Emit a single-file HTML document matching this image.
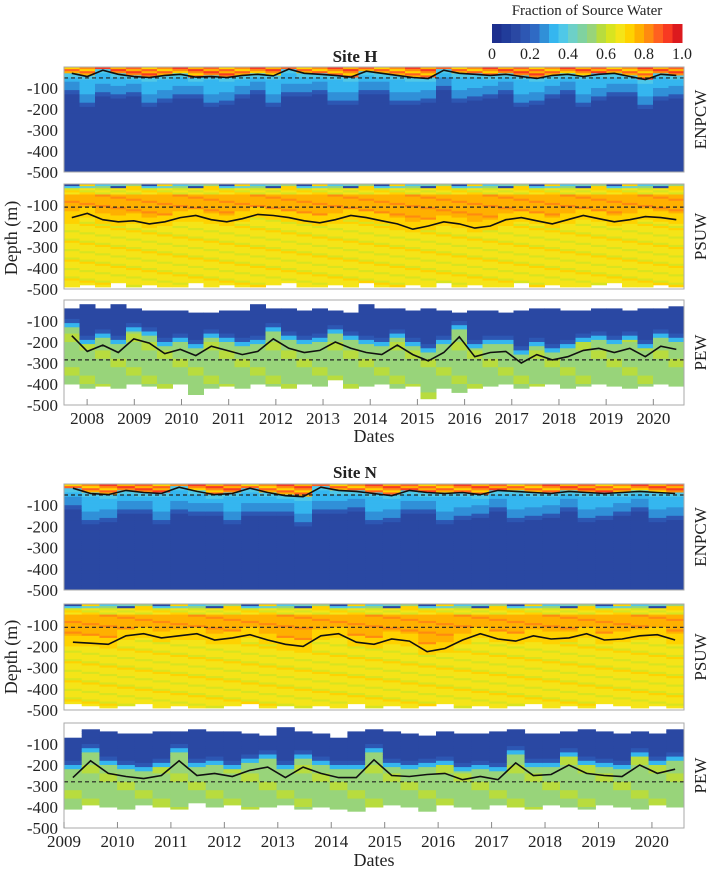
<!DOCTYPE html>
<html><head><meta charset="utf-8"><style>
body{margin:0;background:#fff;}
svg text{font-family:"Liberation Serif",serif;fill:#222;}
</style></head><body>
<svg id="chart" width="709" height="872" viewBox="0 0 709 872" xmlns="http://www.w3.org/2000/svg">
<g id="cb"></g>
<text x="587" y="15" font-size="15" text-anchor="middle">Fraction of Source Water</text>
<text x="355" y="62" font-size="17" font-weight="bold" text-anchor="middle">Site H</text>
<text x="355" y="478" font-size="17" font-weight="bold" text-anchor="middle">Site N</text>
<text transform="translate(17,238) rotate(-90)" font-size="18" text-anchor="middle">Depth (m)</text>
<text transform="translate(17,657) rotate(-90)" font-size="18" text-anchor="middle">Depth (m)</text>
<text x="374" y="442" font-size="18" text-anchor="middle">Dates</text>
<text x="374" y="866" font-size="18" text-anchor="middle">Dates</text>
<g id="plots"></g>
</svg>
<script>
const colorTicks=["0","0.2","0.4","0.6","0.8","1.0"];
const enH=[-30,-45,-15,-35,-45,-50,-40,-35,-48,-45,-50,-40,-35,-42,-10,-30,-35,-40,-48,-20,-30,-40,-50,-55,-15,-30,-35,-40,-35,-45,-55,-40,-35,-45,-35,-30,-45,-60,-35,-40];
const psH=[-160,-140,-170,-180,-175,-190,-180,-160,-150,-170,-180,-165,-145,-150,-160,-175,-185,-170,-150,-160,-175,-190,-215,-200,-180,-190,-210,-200,-170,-160,-175,-190,-170,-150,-165,-180,-170,-155,-160,-170];
const psBotH=[-490,-480,-490,-470,-490,-480,-490,-490,-470,-490,-480,-490,-490,-480,-470,-490,-490,-480,-490,-470,-490,-490,-480,-490,-470,-490,-480,-490,-490,-470,-490,-480,-490,-490,-480,-470,-490,-490,-480,-490];
const peH=[-170,-245,-215,-250,-185,-205,-255,-235,-265,-220,-240,-260,-245,-185,-230,-250,-240,-200,-230,-250,-260,-215,-260,-290,-250,-175,-270,-250,-245,-300,-260,-285,-270,-240,-230,-250,-230,-270,-220,-235];
const peTopH=[-40,-20,-40,-20,-45,-50,-50,-55,-60,-60,-55,-50,-20,-45,-45,-50,-45,-50,-60,-20,-45,-40,-50,-40,-55,-60,-50,-55,-60,-50,-45,-40,-55,-50,-45,-40,-50,-45,-40,-35];
const peBotH=[-400,-420,-410,-420,-400,-410,-420,-400,-450,-420,-410,-420,-400,-410,-420,-400,-410,-380,-420,-410,-400,-420,-410,-470,-420,-440,-420,-410,-400,-420,-410,-400,-420,-410,-400,-410,-420,-410,-400,-410];
const enN=[-20,-45,-50,-30,-40,-45,-15,-35,-50,-45,-20,-40,-55,-60,-15,-30,-35,-45,-55,-30,-40,-45,-40,-50,-30,-35,-40,-45,-35,-40,-45,-40,-35,-40,-45];
const psN=[-180,-185,-190,-150,-140,-160,-150,-140,-170,-160,-145,-170,-190,-200,-150,-140,-180,-190,-165,-175,-225,-210,-170,-140,-165,-175,-150,-165,-160,-140,-170,-165,-150,-145,-170];
const psBotN=[-470,-480,-490,-480,-470,-490,-480,-490,-490,-480,-470,-490,-480,-490,-480,-490,-470,-490,-480,-490,-480,-470,-490,-480,-490,-480,-470,-490,-480,-490,-470,-480,-490,-480,-490];
const peN=[-260,-180,-240,-255,-265,-250,-180,-250,-240,-255,-225,-210,-260,-210,-240,-260,-260,-175,-250,-255,-245,-240,-270,-255,-270,-190,-250,-245,-200,-240,-250,-255,-200,-240,-220];
const peTopN=[-70,-30,-40,-50,-50,-40,-40,-30,-40,-40,-50,-60,-25,-40,-50,-70,-40,-30,-40,-50,-60,-40,-50,-50,-40,-30,-50,-50,-40,-30,-40,-50,-40,-50,-30];
const peBotN=[-410,-390,-400,-410,-390,-400,-410,-380,-400,-390,-410,-400,-390,-410,-400,-410,-420,-400,-390,-400,-420,-390,-400,-410,-390,-400,-410,-390,-400,-410,-390,-400,-410,-390,-400];
const yearsH=[2008,2009,2010,2011,2012,2013,2014,2015,2016,2017,2018,2019,2020];
const yearsN=[2009,2010,2011,2012,2013,2014,2015,2016,2017,2018,2019,2020];
const depthTicks=[-100,-200,-300,-400,-500];

const CM=["#1d2f8e","#213c9a","#2a48a3","#2d57b3","#2f6ac4","#3090d8","#35b6ef","#4fc8e8","#6dd0c8","#80d2a0","#98d47a","#b8dc3e","#d8e420","#f5e418","#ffd200","#ffb000","#ff8a10","#ff6020","#f83a22","#dc1a1e"];
function cmap(v){let k=Math.floor(v*20);if(k<0)k=0;if(k>19)k=19;return CM[k];}
const NS="http://www.w3.org/2000/svg";
function mk(tag,attrs,parent){const e=document.createElementNS(NS,tag);for(const k in attrs)e.setAttribute(k,attrs[k]);parent.appendChild(e);return e;}

const cb=document.getElementById('cb');
const cbX=492,cbW=190;
for(let i=0;i<20;i++){const r=mk('rect',{x:cbX+i*cbW/20,y:24,width:cbW/20+0.5,height:19,fill:CM[i]},cb);

}
colorTicks.forEach((t,i)=>{const tx=mk('text',{x:cbX+i*cbW/5,y:59,'font-size':16,'text-anchor':'middle'},cb);tx.textContent=t;

});

const X0=64,X1=684;
const plots=document.getElementById('plots');
function panel(top,bot,t0,t1,type,line,a,b,dash,label,years,showX,name){
  const g=mk('g',{},plots);
  
  
  const h=bot-top;
  const y=d=>top+(-d)/500*h;
  const n=line.length,cw=(X1-X0)/n;
  const xi=i=>X0+i*cw;
  for(let i=0;i<n;i++){
    const L=line[i];
    for(let j=0;j<50;j++){
      const d=-(j*10+5);let v=null;const p=((i*7+j*3)%5)/5;
      if(type==='en'){
        const deep=((i*3)%4)*15;
        if(d>L)v=0.72+0.25*p;else if(d>L-20)v=0.36;else if(d>L-40-deep)v=0.31;else if(d>L-80-deep)v=0.26;else if(d>L-100-deep)v=0.17;else v=0.11;
      }else if(type==='ps'){
        if(d<a[i])v=null;
        else if(d>-25)v=[0.12,0.35,0.5,0.7,0.4][(i*3+j)%5];
        else if(d>-55)v=0.62+0.1*p;
        else if(d>L+30)v=0.76+0.06*p;
        else if(d>L-20)v=0.71;
        else {const q=(i*11+j*7)%9; v=q===0?0.71:(q<3?0.62:0.66);}
      }else{
        if(d>a[i]||d<b[i])v=null;
        else if(d>L+75)v=0.11;
        else if(d>L+55)v=0.17;
        else if(d>L+35)v=0.32;
        else v=(((i*3+(j>>2))%4)===0)?0.56:0.5;
      }
      if(v===null)continue;
      const r=mk('rect',{x:xi(i),y:y(d+5),width:cw+0.5,height:h/50+0.5,fill:cmap(v)},g);
      
      
    }
  }
  const dl=mk('line',{x1:X0,x2:X1,y1:y(dash),y2:y(dash),stroke:'#222','stroke-width':1.2,'stroke-dasharray':'4,3'},g);
  
  
  const pts=line.map((L,i)=>(xi(i)+cw/2).toFixed(1)+','+y(L).toFixed(1)).join(' ');
  const pl=mk('polyline',{points:pts,fill:'none',stroke:'#111','stroke-width':1.6},g);
  
  
  const fr=mk('rect',{x:X0,y:top,width:X1-X0,height:h,fill:'none',stroke:'#aaa','stroke-width':1},g);
  
  
  depthTicks.forEach(t=>{const tx=mk('text',{x:58,y:y(t)+6,'font-size':17,'text-anchor':'end'},g);tx.textContent=t;
    
    });
  const lb=mk('text',{transform:`translate(706,${(top+bot)/2}) rotate(-90)`,'font-size':17,'text-anchor':'middle'},g);lb.textContent=label;
  
  
  if(showX){years.forEach(yr=>{const px=X0+(yr-t0)/(t1-t0)*(X1-X0);
    const tk=mk('line',{x1:px,x2:px,y1:bot,y2:bot-6,stroke:'#888'},g);
    
    
    const tx=mk('text',{x:px,y:bot+19,'font-size':17,'text-anchor':'middle'},g);tx.textContent=yr;
    
    });}
}
const tH0=2007.51,tH1=2020.65,tN0=2009.0,tN1=2020.6;
panel(67,172,tH0,tH1,'en',enH,null,null,-52,'ENPCW',yearsH,false,'site-h-enpcw-panel');
panel(184,289,tH0,tH1,'ps',psH,psBotH,null,-110,'PSUW',yearsH,false,'site-h-psuw-panel');
panel(300,405,tH0,tH1,'pe',peH,peTopH,peBotH,-285,'PEW',yearsH,true,'site-h-pew-panel');
panel(484,590,tN0,tN1,'en',enN,null,null,-52,'ENPCW',yearsN,false,'site-n-enpcw-panel');
panel(604,710,tN0,tN1,'ps',psN,psBotN,null,-110,'PSUW',yearsN,false,'site-n-psuw-panel');
panel(723,828,tN0,tN1,'pe',peN,peTopN,peBotN,-280,'PEW',yearsN,true,'site-n-pew-panel');
</script>
</body></html>
